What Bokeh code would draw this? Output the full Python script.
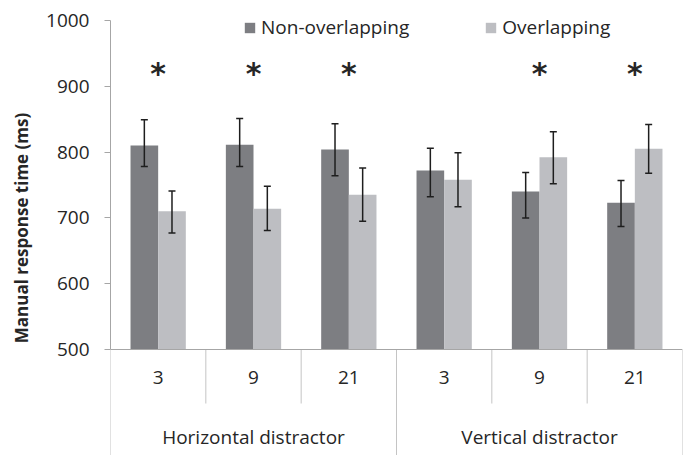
from bokeh.plotting import figure
from bokeh.models import (ColumnDataSource, FactorRange, Whisker, Legend, LegendItem,
                          FixedTicker, TeeHead, CategoricalAxis)
from bokeh.transform import dodge
from bokeh.core.properties import value
from bokeh.embed import file_html
from bokeh.resources import INLINE

# ---------------- data ----------------
groups = ["Horizontal distractor", "Vertical distractor"]
distractor_counts = ["3", "9", "21"]
series_names = ["Non-overlapping", "Overlapping"]
non_overlap_mean = [810, 811, 804, 772, 740, 723]
non_overlap_lower = [778, 778, 764, 732, 700, 687]
non_overlap_upper = [849, 851, 843, 806, 769, 757]
overlap_mean = [710, 714, 735, 758, 792, 805]
overlap_lower = [677, 681, 695, 717, 752, 768]
overlap_upper = [741, 748, 776, 799, 831, 842]
significant = [True, True, True, False, True, True]
y_ticks = [500, 600, 700, 800, 900, 1000]

# ---------------- style / layout ----------------
FONT = "Open Sans"
FS = "19px"
DARK = "#7d7e82"
LIGHT = "#bdbec2"
TEXT = "#262626"
AXIS = "#a6a6a6"
SEP = "#c4c4c4"

W, H = 690, 455
LEFT, RIGHT = 110, 8
TOP_PAD, BOTTOM_PAD = 20, 106          # pixels above 1000 / below 500
PLOT_PX = H - TOP_PAD - BOTTOM_PAD     # pixels between 500 and 1000
k = PLOT_PX / (y_ticks[-1] - y_ticks[0])   # px per ms
y_lo, y_hi = y_ticks[0], y_ticks[-1]
y_start = y_lo - BOTTOM_PAD / k
y_end = y_hi + TOP_PAD / k
SUB_SEP_PX = 54
GROUP_LABEL_PX = 74

factors = [(g, c) for g in groups for c in distractor_counts]

src = ColumnDataSource(dict(
    x=factors,
    non=non_overlap_mean, non_lo=non_overlap_lower, non_up=non_overlap_upper,
    ov=overlap_mean, ov_lo=overlap_lower, ov_up=overlap_upper,
))

p = figure(
    x_range=FactorRange(*factors, range_padding=0, group_padding=0, factor_padding=0),
    y_range=(y_start, y_end),
    width=W, height=H, output_backend="svg", toolbar_location=None,
    x_axis_location=None,
    min_border_left=LEFT, min_border_right=RIGHT, min_border_top=0, min_border_bottom=0,
)
p.extra_x_ranges = {"groups": FactorRange(*groups, range_padding=0, factor_padding=0)}
p.outline_line_color = None
p.xgrid.visible = False
p.ygrid.visible = False
p.background_fill_color = "white"

bar_w = 0.29
off = 0.145
r_non = p.vbar(x=dodge("x", -off, range=p.x_range), top="non", bottom=y_lo, width=bar_w,
               source=src, fill_color=DARK, line_color=None)
r_ov = p.vbar(x=dodge("x", off, range=p.x_range), top="ov", bottom=y_lo, width=bar_w,
              source=src, fill_color=LIGHT, line_color=None)

for key, o in (("non", -off), ("ov", off)):
    w = Whisker(base=dodge("x", o, range=p.x_range), upper=key + "_up", lower=key + "_lo",
                source=src, line_color="#1e1e1e", line_width=1.5, level="overlay",
                upper_head=TeeHead(size=7, line_color="#1e1e1e", line_width=1.5),
                lower_head=TeeHead(size=7, line_color="#1e1e1e", line_width=1.5))
    p.add_layout(w)

# significance asterisks
star_x = [f for f, s in zip(factors, significant) if s]
star_src = ColumnDataSource(dict(x=star_x, t=["*"] * len(star_x)))
p.text(x="x", y=920, text="t", source=star_src, text_align="center", text_baseline="alphabetic",
       text_font=value("DejaVu Sans"), text_font_size="30px", text_font_style="bold", text_color=TEXT)

# category separators (table lines under the axis)
sub_src = ColumnDataSource(dict(x=[f for f in factors if f[1] != distractor_counts[0]]))
grp_src = ColumnDataSource(dict(x=[f for f in factors if f[1] == distractor_counts[0]]))
end_src = ColumnDataSource(dict(x=[factors[-1]]))
for s, o, yb in ((sub_src, -0.5, y_lo - SUB_SEP_PX / k), (grp_src, -0.5, y_start),
                 (end_src, 0.5, y_start)):
    xd = dodge("x", o, range=p.x_range)
    p.segment(x0=xd, x1=xd, y0=y_lo, y1=yb, source=s, line_color=SEP, line_width=1)

# y axis
ya = p.yaxis[0]
ya.ticker = FixedTicker(ticks=y_ticks)
ya.bounds = (y_lo, y_hi)
ya.axis_label = "Manual response time (ms)"
ya.axis_label_text_font = FONT
ya.axis_label_text_font_size = "17px"
ya.axis_label_text_font_style = "bold"
ya.axis_label_text_color = TEXT
ya.axis_label_standoff = 10
ya.major_label_text_font = FONT
ya.major_label_text_font_size = FS
ya.major_label_text_color = TEXT
ya.major_label_standoff = 15
ya.major_tick_out = 6
ya.major_tick_in = 0
ya.minor_tick_line_color = None
ya.axis_line_color = AXIS
ya.major_tick_line_color = AXIS

# x axis: distractor counts (fixed at y = 500, inside the frame)
xa = CategoricalAxis(fixed_location=y_lo)
xa.axis_line_color = AXIS
xa.major_tick_line_color = None
xa.major_tick_out = 0
xa.minor_tick_line_color = None
xa.major_label_text_font = FONT
xa.major_label_text_font_size = FS
xa.major_label_text_color = TEXT
xa.major_label_standoff = 21
xa.group_text_color = None
xa.group_text_font_size = "1px"
xa.separator_line_color = None
p.add_layout(xa, "below")

# x axis: distractor orientation groups
xg = CategoricalAxis(x_range_name="groups", fixed_location=y_lo - GROUP_LABEL_PX / k)
xg.axis_line_color = None
xg.major_tick_line_color = None
xg.major_tick_out = 0
xg.minor_tick_line_color = None
xg.major_label_text_font = FONT
xg.major_label_text_font_size = FS
xg.major_label_text_color = TEXT
xg.major_label_standoff = 0
xg.separator_line_color = None
p.add_layout(xg, "below")

legend = Legend(
    items=[LegendItem(label=series_names[0], renderers=[r_non]),
           LegendItem(label=series_names[1], renderers=[r_ov])],
    location=(133, 415), orientation="horizontal",
    glyph_width=13, glyph_height=13, label_standoff=5, spacing=75,
    padding=0, margin=0, border_line_color=None, background_fill_alpha=0,
    label_text_font=FONT, label_text_font_size=FS, label_text_color=TEXT,
)
p.add_layout(legend)

open("out.html", "w").write(file_html(p, INLINE))
